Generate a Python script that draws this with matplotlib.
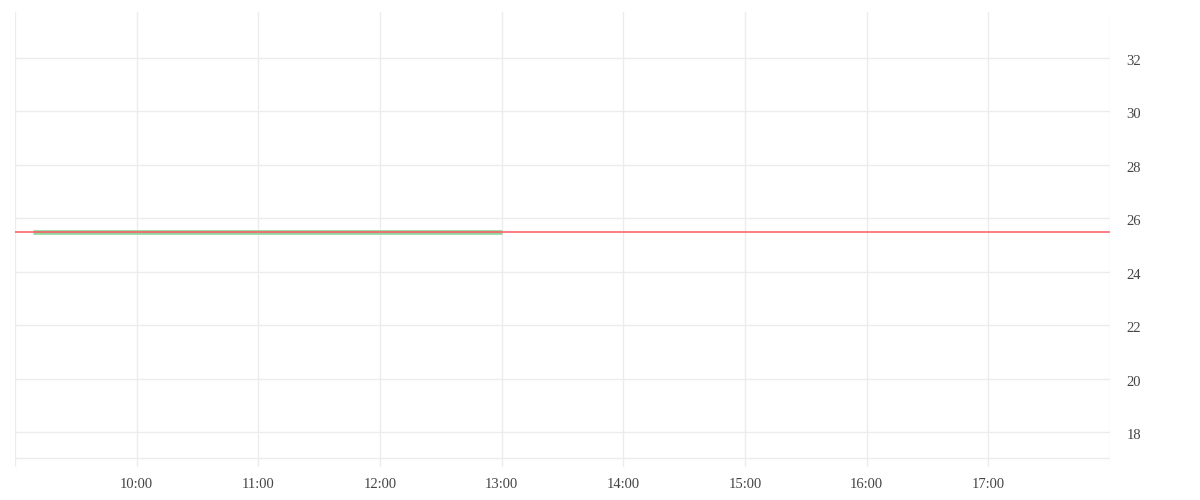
import matplotlib
matplotlib.use("Agg")
import matplotlib.pyplot as plt
import matplotlib.transforms as mtransforms

# intraday price series (flat), and the reference (previous close) price
times = ["09:09", "10:00", "11:00", "12:00", "13:00"]
prices = [25.5, 25.5, 25.5, 25.5, 25.5]
ref_price = 25.5

x_ticks = ["09:00", "10:00", "11:00", "12:00", "13:00", "14:00", "15:00", "16:00", "17:00", "18:00"]
y_ticks = [18, 20, 22, 24, 26, 28, 30, 32]


def to_hours(s):
    h, m = s.split(":")
    return int(h) + int(m) / 60.0


plt.rcParams['font.family'] = ['Liberation Serif', 'DejaVu Serif']

fig = plt.figure(figsize=(12, 5), dpi=100)
ax = fig.add_axes([0.0125, 0.066, 0.9125, 0.91])

grid_c = "#ececec"
xs = [to_hours(t) for t in times]
xt = [to_hours(t) for t in x_ticks]

for v in xt:
    ax.axvline(v, color=grid_c, lw=1, zorder=0)
for v in y_ticks:
    ax.axhline(v, color=grid_c, lw=1, zorder=0)
ax.axhline(17.03, color=grid_c, lw=1, zorder=0)

ax.plot(xs, prices, color="#93d3a2", lw=3.4, solid_capstyle="butt", zorder=2)
ax.axhline(ref_price, color="#ff5a5f", lw=1.1, zorder=3)

ax.set_xlim(xt[0], xt[-1])
ax.set_ylim(16.69, 33.72)

ax.set_xticks(xt)
ax.set_xticklabels([""] + x_ticks[1:-1] + [""])
ax.set_yticks(y_ticks)
ax.set_yticklabels([str(v) for v in y_ticks])
ax.yaxis.tick_right()
ax.tick_params(axis="both", length=0, labelsize=10.5, colors="#444444")
ax.tick_params(axis="y", pad=12)
ax.tick_params(axis="x", pad=8)

# nudge the right-hand price labels down a couple of pixels
shift = mtransforms.ScaledTranslation(0, -2 / 100, fig.dpi_scale_trans)
for lab in ax.get_yticklabels():
    lab.set_transform(lab.get_transform() + shift)

for sp in ax.spines.values():
    sp.set_visible(False)

fig.savefig("out.png", dpi=100, facecolor="white")
